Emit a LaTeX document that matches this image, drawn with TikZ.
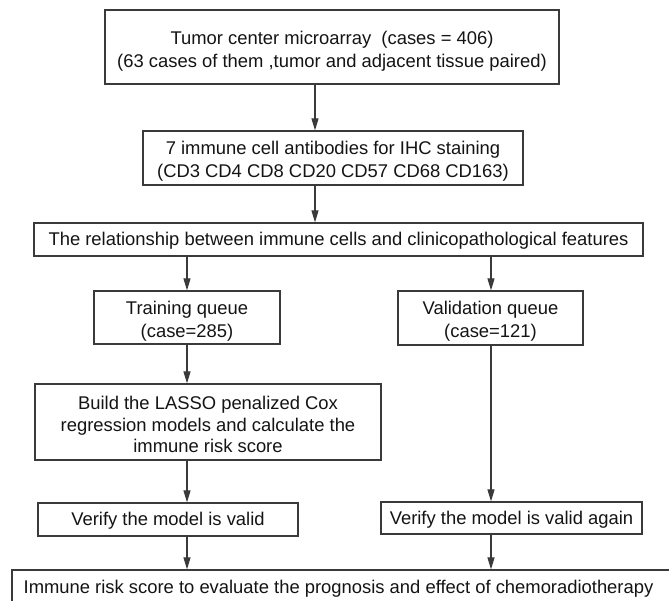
\documentclass[tikz,border=0pt]{standalone}
\usepackage{fontspec}
\setmainfont{Liberation Sans}
\usetikzlibrary{arrows.meta}
\definecolor{edge}{HTML}{3A3A3A}
\definecolor{ink}{HTML}{141414}
\tikzset{
  box/.style={draw=edge, line width=1.2pt, rectangle, inner sep=0pt},
  txt/.style={inner sep=0pt, align=center, text=ink, font=\fontsize{18.4}{23}\selectfont},
  arr/.style={draw=edge, line width=1.1pt, -{Triangle[length=12pt,width=7pt]}}
}
\begin{document}
\begin{tikzpicture}[x=1pt,y=-1pt]
\useasboundingbox (0,0) rectangle (669,601);
\fill[white] (0,0) rectangle (669,601);
% boxes
\node[box, minimum width=454pt, minimum height=74pt] (b1) at (332,47) {};
\node[box, minimum width=380pt, minimum height=54pt] (b2) at (333,158) {};
\node[box, minimum width=609pt, minimum height=33pt] (b3) at (338.5,239.5) {};
\node[box, minimum width=186pt, minimum height=53pt] (tr) at (187,317.5) {};
\node[box, minimum width=185pt, minimum height=54pt] (va) at (490.5,318) {};
\node[box, minimum width=346pt, minimum height=76pt] (la) at (208,422) {};
\node[box, minimum width=260pt, minimum height=33pt] (ve) at (168,519.5) {};
\node[box, minimum width=261pt, minimum height=32pt] (vg) at (511.5,518) {};
\node[box, minimum width=664pt, minimum height=36pt] (fi) at (344,588) {};
% texts
\node[txt] (t1) at ([yshift=-4pt]b1.center)
  {Tumor center microarray\ \ (cases = 406)\\(63 cases of them ,tumor and adjacent tissue paired)};
\node[txt] (t2) at ([yshift=-3.5pt]b2.center)
  {7 immune cell antibodies for IHC staining\\(CD3 CD4 CD8 CD20 CD57 CD68 CD163)};
\node[txt] (t3) at ([yshift=-1.5pt]b3.center)
  {The relationship between immune cells and clinicopathological features};
\node[txt] (ttr) at ([yshift=-3.5pt]tr.center) {Training queue\\(case=285)};
\node[txt] (tva) at ([yshift=-3.5pt]va.center) {Validation queue\\(case=121)};
\node[txt, font=\fontsize{18.4}{21.5}\selectfont] (tla) at ([yshift=-2.5pt]la.center)
  {Build the LASSO penalized Cox\\regression models and calculate the\\immune risk score};
\node[txt] (tve) at ([yshift=-1.5pt]ve.center) {Verify the model is valid};
\node[txt] (tvg) at ([yshift=-1.5pt]vg.center) {Verify the model is valid again};
\node[txt] (tfi) at ([xshift=-5.5pt,yshift=-1pt]fi.center)
  {Immune risk score to evaluate the prognosis and effect of chemoradiotherapy};
% connectors
\coordinate (xa) at (315,0);
\coordinate (xl) at (187,0);
\coordinate (xr) at (491,0);
\draw[arr] (b1.south -| xa) -- (b2.north -| xa);
\draw[arr] (b2.south -| xa) -- (b3.north -| xa);
\draw[arr] (b3.south -| xl) -- (tr.north -| xl);
\draw[arr] (b3.south -| xr) -- (va.north -| xr);
\draw[arr] (tr.south -| xl) -- (la.north -| xl);
\draw[arr] (la.south -| xl) -- (ve.north -| xl);
\draw[arr] (ve.south -| xl) -- (fi.north -| xl);
\draw[arr] (va.south -| xr) -- (vg.north -| xr);
\draw[arr] (vg.south -| xr) -- (fi.north -| xr);
\end{tikzpicture}
\end{document}
